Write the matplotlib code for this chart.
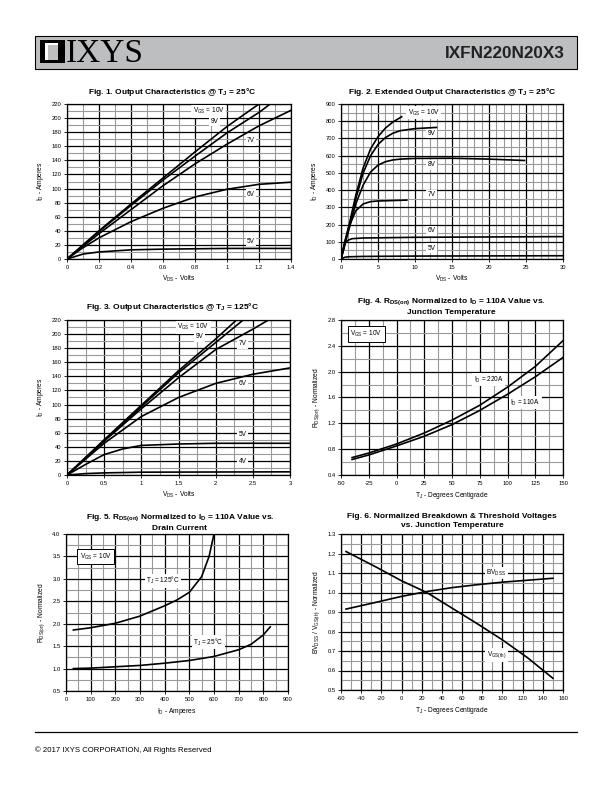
import matplotlib
matplotlib.use('Agg')
import matplotlib.pyplot as plt
from matplotlib.patches import Rectangle
from matplotlib.ticker import MultipleLocator

plt.rcParams['font.family'] = ['Liberation Sans', 'DejaVu Sans']
plt.rcParams['mathtext.fontset'] = 'custom'
plt.rcParams['mathtext.rm'] = 'Liberation Sans'
plt.rcParams['mathtext.it'] = 'Liberation Sans:italic'
plt.rcParams['mathtext.bf'] = 'Liberation Sans:bold'
plt.rcParams['mathtext.default'] = 'regular'
plt.rcParams['axes.unicode_minus'] = False

W, H = 612, 792

# ---- Fig 1: output characteristics @ 25C
f1_vgs10_x = [0, 0.2, 0.4, 0.6, 0.8, 1.0, 1.2]
f1_vgs10_y = [0, 40, 78, 115, 152, 188, 220]
f1_vgs9_x = [0, 0.2, 0.4, 0.6, 0.8, 1.0, 1.2, 1.27]
f1_vgs9_y = [0, 39, 76, 112, 146, 179, 208, 220]
f1_vgs7_x = [0, 0.2, 0.4, 0.6, 0.8, 1.0, 1.2, 1.4]
f1_vgs7_y = [0, 36, 70, 104, 135, 163, 189, 211]
f1_vgs6_x = [0, 0.1, 0.2, 0.4, 0.6, 0.8, 1.0, 1.2, 1.4]
f1_vgs6_y = [0, 16, 30, 53, 72, 88, 99, 106, 109]
f1_vgs5_x = [0, 0.1, 0.2, 0.4, 0.6, 1.0, 1.4]
f1_vgs5_y = [0, 7, 10, 13, 14, 15, 15]

# ---- Fig 2: extended output characteristics @ 25C
f2_vgs10_x = [0, 1, 2, 3, 4, 5, 6, 7, 8.2]
f2_vgs10_y = [0, 180, 370, 530, 640, 710, 760, 795, 826]
f2_vgs9_x = [0, 1, 2, 3, 4, 5, 6, 7, 8, 10, 12.9]
f2_vgs9_y = [0, 170, 350, 500, 600, 665, 705, 730, 745, 757, 764]
f2_vgs8_x = [0, 1, 2, 3, 4, 5, 6, 7, 8, 10, 15, 20, 24.8]
f2_vgs8_y = [0, 160, 320, 430, 505, 545, 565, 575, 580, 584, 585, 580, 572]
f2_vgs7_x = [0, 0.5, 1, 2, 3, 4, 5, 6, 8.9]
f2_vgs7_y = [0, 100, 180, 280, 320, 333, 337, 338, 342]
f2_vgs6_x = [0, 0.3, 0.6, 1, 1.5, 3, 5, 10, 30]
f2_vgs6_y = [0, 50, 95, 110, 118, 122, 123, 126, 130]
f2_vgs5_x = [0, 0.5, 1, 3, 10, 30]
f2_vgs5_y = [0, 10, 13, 15, 17, 19]

# ---- Fig 3: output characteristics @ 125C
f3_vgs10_x = [0, 0.5, 1.0, 1.5, 2.0, 2.28]
f3_vgs10_y = [0, 50, 99, 148, 193, 220]
f3_vgs9_x = [0, 0.5, 1.0, 1.5, 2.0, 2.37]
f3_vgs9_y = [0, 49, 97, 145, 188, 220]
f3_vgs7_x = [0, 0.5, 1.0, 1.5, 2.0, 2.5, 2.71]
f3_vgs7_y = [0, 48, 94, 138, 178, 207, 220]
f3_vgs6_x = [0, 0.5, 1.0, 1.5, 2.0, 2.5, 3.0]
f3_vgs6_y = [0, 45, 83, 110, 130, 143, 152]
f3_vgs5_x = [0, 0.25, 0.5, 0.75, 1.0, 1.5, 2.0, 3.0]
f3_vgs5_y = [0, 15, 29, 37, 42, 44, 45, 45]
f3_vgs4_x = [0, 0.25, 0.5, 1.0, 3.0]
f3_vgs4_y = [0, 2, 3, 4, 4.5]

# ---- Fig 4: RDS(on) vs junction temperature
f4_tj = [-40, -25, 0, 25, 50, 75, 100, 125, 150]
f4_id220 = [0.67, 0.74, 0.88, 1.05, 1.25, 1.48, 1.76, 2.08, 2.48]
f4_id110 = [0.64, 0.71, 0.85, 1.00, 1.18, 1.40, 1.65, 1.92, 2.22]

# ---- Fig 5: RDS(on) vs drain current
f5_tj125_x = [30, 100, 200, 300, 400, 450, 500, 550, 580, 600]
f5_tj125_y = [1.86, 1.91, 2.01, 2.17, 2.40, 2.53, 2.70, 3.05, 3.50, 4.0]
f5_tj25_x = [30, 100, 200, 300, 400, 500, 600, 700, 750, 800, 828]
f5_tj25_y = [1.0, 1.01, 1.04, 1.07, 1.12, 1.18, 1.27, 1.42, 1.54, 1.75, 1.93]

# ---- Fig 6: normalized breakdown & threshold voltages
f6_tj = [-55, -25, 0, 25, 50, 75, 100, 125, 150]
f6_bvdss = [0.915, 0.95, 0.98, 1.005, 1.025, 1.04, 1.053, 1.063, 1.073]
f6_vgsth = [1.21, 1.13, 1.06, 1.0, 0.92, 0.84, 0.757, 0.665, 0.56]

# tick labels
f1_xt = [0, 0.2, 0.4, 0.6, 0.8, 1.0, 1.2, 1.4]
f1_xl = ['0', '0.2', '0.4', '0.6', '0.8', '1', '1.2', '1.4']
f1_yt = list(range(0, 221, 20))
f2_xt = list(range(0, 31, 5))
f2_yt = list(range(0, 901, 100))
f3_xt = [0, 0.5, 1, 1.5, 2, 2.5, 3]
f3_xl = ['0', '0.5', '1', '1.5', '2', '2.5', '3']
f4_xt = list(range(-50, 151, 25))
f4_yt = [0.4, 0.8, 1.2, 1.6, 2.0, 2.4, 2.8]
f5_xt = list(range(0, 901, 100))
f5_yt = [0.5, 1.0, 1.5, 2.0, 2.5, 3.0, 3.5, 4.0]
f6_xt = list(range(-60, 161, 20))
f6_yt = [0.5, 0.6, 0.7, 0.8, 0.9, 1.0, 1.1, 1.2, 1.3]

fig = plt.figure(figsize=(W / 100, H / 100), dpi=100)


def rect(l, t, r, b):
    return [l / W, 1 - b / H, (r - l) / W, (b - t) / H]


def px(x, y):
    return x / W, 1 - y / H


def panel(box, xlim, ylim, xt, yt, xminor, yminor, xlab, ylab, xl=None, yl=None):
    ax = fig.add_axes(rect(*box))
    ax.set_xlim(*xlim)
    ax.set_ylim(*ylim)
    ax.set_xticks(xt)
    ax.set_yticks(yt)
    if xl is not None:
        ax.set_xticklabels(xl)
    if yl is not None:
        ax.set_yticklabels(yl)
    ax.xaxis.set_minor_locator(MultipleLocator(xminor))
    ax.yaxis.set_minor_locator(MultipleLocator(yminor))
    ax.grid(which='minor', color='#9a9a9a', lw=0.8)
    ax.grid(which='major', color='black', lw=0.9)
    ax.set_axisbelow(True)
    ax.tick_params(which='major', labelsize=4.2, length=2, width=0.6, pad=2)
    ax.tick_params(which='minor', length=0)
    for s in ax.spines.values():
        s.set_linewidth(0.9)
    ax.set_xlabel(xlab, fontsize=4.8, labelpad=3)
    ax.set_ylabel(ylab, fontsize=4.8, labelpad=4)
    return ax


def title(xc, yc, txt):
    fig.text(*px(xc, yc), txt, ha='center', va='center', fontsize=6.0,
             fontweight='bold', linespacing=1.4)


def lab(ax, x, y, txt, boxed=False):
    if boxed:
        bb = dict(facecolor='white', edgecolor='black', lw=0.7, pad=2)
    else:
        bb = dict(facecolor='white', edgecolor='none', pad=1)
    ax.text(x, y, txt, fontsize=4.7, ha='center', va='center', bbox=bb, zorder=5)


kw = dict(color='black', lw=1.2, zorder=4)

# Fig 1
ax1 = panel((67, 104, 291, 259), (0, 1.4), (0, 220), f1_xt, f1_yt, 0.1, 10,
            r'V$_{DS}$ - Volts', r'I$_D$ - Amperes', xl=f1_xl)
ax1.plot(f1_vgs10_x, f1_vgs10_y, **kw)
ax1.plot(f1_vgs9_x, f1_vgs9_y, **kw)
ax1.plot(f1_vgs7_x, f1_vgs7_y, **kw)
ax1.plot(f1_vgs6_x, f1_vgs6_y, **kw)
ax1.plot(f1_vgs5_x, f1_vgs5_y, **kw)
lab(ax1, 0.885, 210, r'V$_{GS}$ = 10V')
lab(ax1, 0.92, 195, '9V')
lab(ax1, 1.15, 168, '7V')
lab(ax1, 1.15, 92, '6V')
lab(ax1, 1.15, 25, '5V')
title(172, 92, r'Fig. 1. Output Characteristics @ T$_J$ = 25°C')

# Fig 2
ax2 = panel((341, 104, 563, 259), (0, 30), (0, 900), f2_xt, f2_yt, 1, 50,
            r'V$_{DS}$ - Volts', r'I$_D$ - Amperes')
ax2.plot(f2_vgs10_x, f2_vgs10_y, **kw)
ax2.plot(f2_vgs9_x, f2_vgs9_y, **kw)
ax2.plot(f2_vgs8_x, f2_vgs8_y, **kw)
ax2.plot(f2_vgs7_x, f2_vgs7_y, **kw)
ax2.plot(f2_vgs6_x, f2_vgs6_y, **kw)
ax2.plot(f2_vgs5_x, f2_vgs5_y, **kw)
lab(ax2, 11.2, 850, r'V$_{GS}$ = 10V')
lab(ax2, 12.2, 728, '9V')
lab(ax2, 12.2, 546, '8V')
lab(ax2, 12.2, 375, '7V')
lab(ax2, 12.2, 163, '6V')
lab(ax2, 12.2, 62, '5V')
title(452, 92, r'Fig. 2. Extended Output Characteristics @ T$_J$ = 25°C')

# Fig 3
ax3 = panel((67, 320, 290, 475), (0, 3), (0, 220), f3_xt, f1_yt, 0.25, 10,
            r'V$_{DS}$ - Volts', r'I$_D$ - Amperes', xl=f3_xl)
ax3.plot(f3_vgs10_x, f3_vgs10_y, **kw)
ax3.plot(f3_vgs9_x, f3_vgs9_y, **kw)
ax3.plot(f3_vgs7_x, f3_vgs7_y, **kw)
ax3.plot(f3_vgs6_x, f3_vgs6_y, **kw)
ax3.plot(f3_vgs5_x, f3_vgs5_y, **kw)
ax3.plot(f3_vgs4_x, f3_vgs4_y, **kw)
lab(ax3, 1.7, 210, r'V$_{GS}$ = 10V')
lab(ax3, 1.78, 196, '9V')
lab(ax3, 2.36, 186, '7V')
lab(ax3, 2.36, 130, '6V')
lab(ax3, 2.36, 57, '5V')
lab(ax3, 2.36, 19, '4V')
title(172, 307, r'Fig. 3. Output Characteristics @ T$_J$ = 125°C')

# Fig 4
ax4 = panel((341, 320, 563, 475), (-50, 150), (0.4, 2.8), f4_xt, f4_yt, 12.5, 0.2,
            r'T$_J$ - Degrees Centigrade', r'R$_{DS(on)}$ - Normalized',
            yl=['%.1f' % v for v in f4_yt])
ax4.plot(f4_tj, f4_id220, **kw)
ax4.plot(f4_tj, f4_id110, **kw)
lab(ax4, 83, 1.88, r'I$_D$ = 220A')
lab(ax4, 116, 1.52, r'I$_D$ = 110A')
lab(ax4, -27, 2.58, r'V$_{GS}$ = 10V', boxed=True)
title(451, 306, 'Fig. 4. R$_{DS(on)}$ Normalized to I$_D$ = 110A Value vs.\nJunction Temperature')

# Fig 5
ax5 = panel((66, 534, 288, 691), (0, 900), (0.5, 4.0), f5_xt, f5_yt, 50, 0.25,
            r'I$_D$ - Amperes', r'R$_{DS(on)}$ - Normalized',
            yl=['%.1f' % v for v in f5_yt])
ax5.plot(f5_tj125_x, f5_tj125_y, **kw)
ax5.plot(f5_tj25_x, f5_tj25_y, **kw)
lab(ax5, 394, 2.96, r'T$_J$ = 125°C')
lab(ax5, 576, 1.59, r'T$_J$ = 25°C')
lab(ax5, 120, 3.5, r'V$_{GS}$ = 10V', boxed=True)
title(180, 522, 'Fig. 5. R$_{DS(on)}$ Normalized to I$_D$ = 110A Value vs.\nDrain Current')

# Fig 6
ax6 = panel((341, 534, 563, 690), (-60, 160), (0.5, 1.3), f6_xt, f6_yt, 10, 0.05,
            r'T$_J$ - Degrees Centigrade', r'BV$_{DSS}$ / V$_{GS(th)}$ - Normalized',
            yl=['%.1f' % v for v in f6_yt])
ax6.plot(f6_tj, f6_bvdss, **kw)
ax6.plot(f6_tj, f6_vgsth, **kw)
lab(ax6, 94, 1.1, r'BV$_{DSS}$')
lab(ax6, 94, 0.68, r'V$_{GS(th)}$')
title(452, 521, 'Fig. 6. Normalized Breakdown & Threshold Voltages\nvs. Junction Temperature')

# header band
band = '#bcbec0'
fig.patches.append(Rectangle(px(35, 69), 542 / W, 33 / H, transform=fig.transFigure,
                             facecolor=band, edgecolor='black', lw=0.8))
# logo: black square, white corner stripe, grey inner square
fig.patches.append(Rectangle(px(40, 63), 24.5 / W, 23.3 / H, transform=fig.transFigure,
                             facecolor='black', edgecolor='none'))
fig.patches.append(Rectangle(px(45.3, 60), 3 / W, 17.5 / H, transform=fig.transFigure,
                             facecolor='white', edgecolor='none'))
fig.patches.append(Rectangle(px(45.3, 45), 13.2 / W, 2.5 / H, transform=fig.transFigure,
                             facecolor='white', edgecolor='none'))
fig.patches.append(Rectangle(px(48.3, 60), 10.2 / W, 15 / H, transform=fig.transFigure,
                             facecolor=band, edgecolor='none'))
fig.text(*px(66, 62), 'IXYS', family='Liberation Serif', fontsize=24,
         ha='left', va='baseline')
fig.text(*px(565, 58.3), 'IXFN220N20X3', fontsize=12.3, fontweight='bold',
         color='#222222', ha='right', va='baseline')

# footer
fig.add_artist(plt.Line2D([35 / W, 577 / W], [1 - 732 / H, 1 - 732 / H], color='black', lw=0.9))
fig.text(*px(35, 751.5), '© 2017 IXYS CORPORATION, All Rights Reserved', fontsize=5.6,
         ha='left', va='baseline')

fig.savefig('out.png', dpi=100)
